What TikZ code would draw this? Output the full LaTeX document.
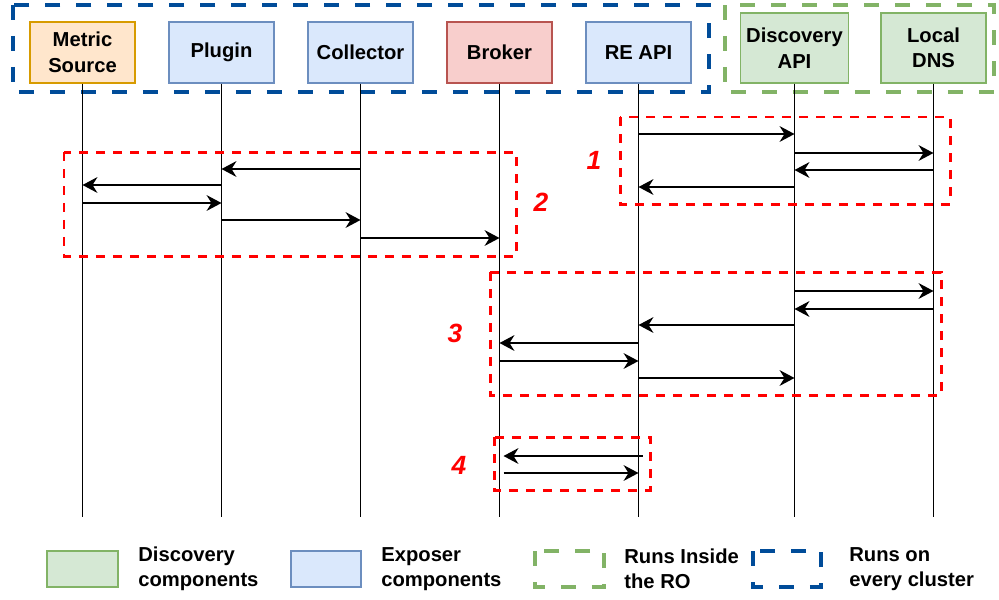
\documentclass[tikz,border=0pt]{standalone}
\usepackage{fontspec}
\setmainfont{Liberation Sans}
\definecolor{msfill}{RGB}{255, 230, 204}
\definecolor{msline}{RGB}{215, 155, 0}
\definecolor{exfill}{RGB}{218, 232, 252}
\definecolor{exline}{RGB}{108, 142, 191}
\definecolor{bkfill}{RGB}{248, 206, 204}
\definecolor{bkline}{RGB}{184, 84, 80}
\definecolor{dcfill}{RGB}{213, 232, 212}
\definecolor{dcline}{RGB}{130, 179, 102}
\definecolor{clblue}{RGB}{0, 76, 153}
\usepackage{tikz}
\usetikzlibrary{positioning, arrows.meta}

\begin{document}
\begin{tikzpicture}[x=0.02cm, y=-0.02cm, font=\bfseries\fontsize{11.5}{14.5}\selectfont,
        comp/.style={draw, rectangle, line width=0.8pt, minimum width=2.1cm, minimum height=1.22cm, align=center},
        msg/.style={-{Stealth[length=8.5pt, width=9pt, inset=2.8pt]}, line width=0.8pt},
        frame/.style={line width=2.3pt, dash pattern=on 0.3cm off 0.32cm},
        phase/.style={draw=red, line width=1.7pt, dash pattern=on 0.18cm off 0.16cm},
        num/.style={text=red, font=\bfseries\itshape\fontsize{15}{17}\selectfont}]
        \useasboundingbox (0,0) rectangle (999,599);

        % where things run
        \draw[frame, draw=clblue] (13,5) rectangle (709,92);
        \draw[frame, draw=dcline] (725,5) rectangle (994,92);

        % components and lifelines
        \foreach \n/\x/\t/\c in {ms/82.5/{Metric\\Source}/ms, pl/221.5/Plugin/ex, co/360.5/Collector/ex, br/499.5/Broker/bk, re/638.5/RE API/ex} {
            \node[comp, fill=\c fill, draw=\c line] (\n) at (\x, 52.5) {\t};
        }
        \foreach \n/\x/\t in {da/794.5/{Discovery\\API}, dns/933.5/{Local\\DNS}} {
            \node[comp, fill=dcfill, draw=dcline, minimum height=1.4cm] (\n) at (\x, 48) {\t};
        }
        \foreach \n in {ms, pl, co, br, re, da, dns} {
            \coordinate (\n-end) at (\n.south |- 0,517);
            \draw[line width=0.8pt] (\n.south) -- (\n-end);
        }

        % phase 1
        \draw[phase] (620,117) rectangle (950,204);
        \node[num] (n1) at (594,160) {1};
        \foreach \a/\b/\y in {re/da/134, da/dns/153, dns/da/170, da/re/187} {
            \draw[msg] (\a |- 0,\y) -- (\b |- 0,\y);
        }

        % phase 2
        \draw[phase] (64,152) rectangle (516,256);
        \node[num] (n2) at (541,202) {2};
        \foreach \a/\b/\y in {co/pl/169, pl/ms/185, ms/pl/203, pl/co/220, co/br/238} {
            \draw[msg] (\a |- 0,\y) -- (\b |- 0,\y);
        }

        % phase 3
        \draw[phase] (490,272) rectangle (941,395);
        \node[num] (n3) at (455,333) {3};
        \foreach \a/\b/\y in {da/dns/291, dns/da/309, da/re/325, re/br/343, br/re/361, re/da/378} {
            \draw[msg] (\a |- 0,\y) -- (\b |- 0,\y);
        }

        % phase 4
        \draw[phase] (494,437) rectangle (650,490);
        \node[num] (n4) at (459,465) {4};
        \draw[msg] ([xshift=0.08cm]re |- 0,456) -- ([xshift=0.08cm]br |- 0,456);
        \draw[msg] ([xshift=0.08cm]br |- 0,473) -- (re |- 0,473);

        % legend
        \node[draw=dcline, fill=dcfill, line width=0.8pt, minimum width=1.42cm, minimum height=0.72cm] (lg1) at (82.5,569) {};
        \node[anchor=west, align=left, inner sep=0pt] (lt1) at (138,569) {Discovery\\components};
        \node[draw=exline, fill=exfill, line width=0.8pt, minimum width=1.4cm, minimum height=0.72cm] (lg2) at (326,569) {};
        \node[anchor=west, align=left, inner sep=0pt] (lt2) at (381,569) {Exposer\\components};
        \draw[frame, draw=dcline] (535,551) rectangle (604,587);
        \node[anchor=west, align=left, inner sep=0pt] (lt3) at (624,569) {Runs Inside\\the RO};
        \draw[frame, draw=clblue] (753,551) rectangle (821,587);
        \node[anchor=west, align=left, inner sep=0pt] (lt4) at (849,569) {Runs on\\every cluster};
    \end{tikzpicture}
\end{document}
